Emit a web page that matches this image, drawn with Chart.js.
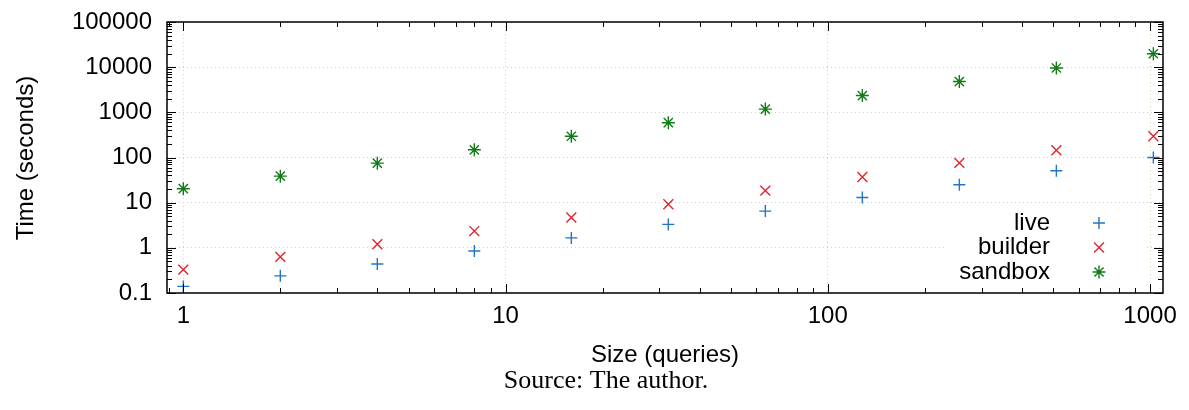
<!DOCTYPE html>
<html>
<head>
<meta charset="utf-8">
<script src="https://cdn.jsdelivr.net/npm/chart.js@4/dist/chart.umd.min.js"></script>
<style>
  html, body { margin: 0; padding: 0; background: #fff; }
  #wrap { width: 1189px; height: 410px; }
</style>
</head>
<body>
<div id="wrap"><canvas id="chart" width="1189" height="410"></canvas></div>
<script>
// values
var sizes = [1, 2, 4, 8, 16, 32, 64, 128, 256, 512, 1024];
var live = [0.14, 0.24, 0.44, 0.85, 1.66, 3.3, 6.5, 13, 25, 51, 100];
var builder = [0.33, 0.63, 1.2, 2.35, 4.7, 9.2, 18.5, 37, 76, 145, 295];
var sandbox = [20.4, 38.6, 75, 148, 295, 590, 1180, 2350, 4800, 9600, 19800];

var xTickLabels = [1, 10, 100, 1000];
var yTickLabels = [0.1, 1, 10, 100, 1000, 10000, 100000];

var sansFont = "'Liberation Sans', Arial, sans-serif";
var serifFont = "'Liberation Serif', 'Times New Roman', serif";

function points(ys) {
    var out = [];
    for (let i = 0; i < sizes.length; i++) out.push({x: sizes[i], y: ys[i]});
    return out;
}

function isMajor(v) {
    var l = Math.log10(v);
    return Math.abs(l - Math.round(l)) < 1e-9;
}

// inward ticks on all four sides, frame, titles and the legend
var decorPlugin = {
    id: 'decor',
    beforeDatasetsDraw(chart) {
        var ctx = chart.ctx;
        ctx.save();
        ctx.fillStyle = '#fff';
        ctx.fillRect(945, 210, 200, 76);
        ctx.restore();
    },
    afterDraw(chart) {
        var ctx = chart.ctx;
        var a = chart.chartArea;
        var xs = chart.scales.x, ys = chart.scales.y;
        ctx.save();
        ctx.strokeStyle = '#000';
        ctx.lineWidth = 1;
        ctx.beginPath();
        for (let e = -2; e <= 5; e++) {
            for (let m = 1; m <= 9; m++) {
                var v = m * Math.pow(10, e);
                var len = m === 1 ? 9 : 5;
                if (v >= xs.min && v <= xs.max) {
                    var px = Math.round(xs.getPixelForValue(v)) + 0.5;
                    ctx.moveTo(px, a.bottom); ctx.lineTo(px, a.bottom - len);
                    ctx.moveTo(px, a.top); ctx.lineTo(px, a.top + len);
                }
                if (v >= ys.min && v <= ys.max) {
                    var py = Math.round(ys.getPixelForValue(v)) + 0.5;
                    ctx.moveTo(a.left, py); ctx.lineTo(a.left + len, py);
                    ctx.moveTo(a.right, py); ctx.lineTo(a.right - len, py);
                }
            }
        }
        ctx.stroke();
        ctx.lineWidth = 1.5;
        ctx.strokeRect(a.left, a.top, a.right - a.left, a.bottom - a.top);

        // axis titles and caption
        ctx.fillStyle = '#000';
        ctx.textAlign = 'center';
        ctx.textBaseline = 'middle';
        ctx.font = '24px ' + sansFont;
        ctx.fillText('Size (queries)', (a.left + a.right) / 2, 355);
        ctx.save();
        ctx.translate(26, 158);
        ctx.rotate(-Math.PI / 2);
        ctx.fillText('Time (seconds)', 0, 0);
        ctx.restore();
        ctx.font = '26px ' + serifFont;
        ctx.fillText('Source: The author.', 606, 381);

        // legend: label on the left, marker on the right
        ctx.font = '24px ' + sansFont;
        ctx.textAlign = 'right';
        chart.data.datasets.forEach(function (ds, i) {
            var y = 223 + i * 24.5;
            ctx.fillStyle = '#000';
            ctx.fillText(ds.label, 1050, y);
            ctx.strokeStyle = ds.borderColor;
            ctx.fillStyle = ds.borderColor;
            ctx.lineWidth = ds.pointBorderWidth;
            Chart.helpers.drawPoint(ctx, {pointStyle: ds.pointStyle, radius: ds.pointRadius, rotation: 0, borderWidth: ds.pointBorderWidth}, 1099, y);
        });
        ctx.restore();
    }
};

var gridColor = function (c) {
    return isMajor(c.tick.value) ? 'rgba(205,205,185,0.9)' : 'rgba(0,0,0,0)';
};

var tickLabel = function (value) {
    return isMajor(value) ? String(value) : '';
};

new Chart(document.getElementById('chart'), {
    type: 'scatter',
    data: {
        datasets: [
            {label: 'live', data: points(live), pointStyle: 'cross', pointRadius: 6, pointBorderWidth: 1.4,
             borderColor: '#2274c6', backgroundColor: '#2274c6'},
            {label: 'builder', data: points(builder), pointStyle: 'crossRot', pointRadius: 7, pointBorderWidth: 1.4,
             borderColor: '#e3242d', backgroundColor: '#e3242d'},
            {label: 'sandbox', data: points(sandbox), pointStyle: 'star', pointRadius: 6.5, pointBorderWidth: 1.4,
             borderColor: '#127a17', backgroundColor: '#127a17'}
        ]
    },
    options: {
        responsive: false,
        animation: false,
        devicePixelRatio: 1,
        layout: {padding: {left: 0, right: 26, top: 22, bottom: 0}},
        plugins: {legend: {display: false}, tooltip: {enabled: false}},
        scales: {
            x: {
                type: 'logarithmic', min: 0.89, max: 1097,
                afterFit: function (s) { s.height = 117; s.paddingLeft = 0; s.paddingRight = 0; },
                grid: {color: gridColor, drawTicks: false, lineWidth: 1},
                border: {display: false, dash: [1, 3]},
                ticks: {autoSkip: false, maxRotation: 0, padding: 9, color: '#000',
                        font: {family: sansFont, size: 24}, callback: tickLabel}
            },
            y: {
                type: 'logarithmic', min: 0.1, max: 100000,
                afterFit: function (s) { s.width = 167; s.paddingTop = 0; s.paddingBottom = 0; },
                grid: {color: gridColor, drawTicks: false, lineWidth: 1},
                border: {display: false, dash: [1, 3]},
                ticks: {autoSkip: false, padding: 15, color: '#000',
                        font: {family: sansFont, size: 24}, callback: tickLabel}
            }
        }
    },
    plugins: [decorPlugin]
});
</script>
</body>
</html>
